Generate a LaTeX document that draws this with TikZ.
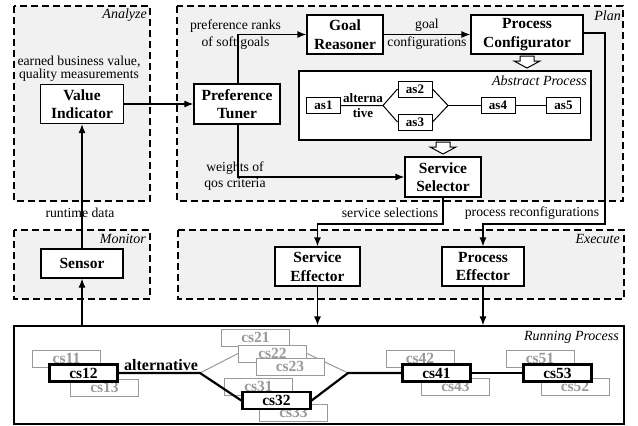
\documentclass[tikz,border=0pt]{standalone}
\usepackage{fontspec}
\setmainfont{Liberation Serif}
\usetikzlibrary{arrows.meta}
\definecolor{regfill}{gray}{0.945}
\definecolor{greyline}{gray}{0.6}
\begin{document}
\begin{tikzpicture}[x=1pt,y=-1pt,
  region/.style={draw, dash pattern=on 7pt off 4pt, line width=1.1pt, fill=regfill},
  blk/.style={draw, line width=1.2pt, fill=white, align=center, inner sep=0pt, font=\fontsize{15.5}{18.5}\selectfont\bfseries},
  abox/.style={draw, line width=1pt, fill=white, inner sep=0pt, minimum width=34pt, minimum height=16pt, font=\fontsize{13}{14}\selectfont\bfseries},
  gbox/.style={draw=greyline, line width=1pt, fill=white, text=greyline, inner sep=0pt, minimum width=68pt, minimum height=17pt, font=\fontsize{15.5}{16}\selectfont\bfseries},
  cbox/.style={draw, line width=2.3pt, fill=white, inner sep=0pt, minimum width=68pt, minimum height=17pt, font=\fontsize{15.5}{16}\selectfont\bfseries},
  lbl/.style={font=\fontsize{13.7}{14}\selectfont, align=center, inner sep=0pt},
  tag/.style={font=\fontsize{14}{14}\selectfont\itshape, anchor=base east, inner sep=0pt},
  conn/.style={line width=1.2pt, -{Latex[length=9pt,width=7pt]}},
  hollow/.style={draw, line width=1pt, fill=white},
  thick line/.style={line width=2.2pt},
]
\useasboundingbox (0,0) rectangle (638,426);

% regions
\draw[region] (14,6) rectangle (150,201);
\node[tag] (tAnalyze) at (147,18) {Analyze};
\draw[region] (177,6) rectangle (623,201);
\node[tag] (tPlan) at (621,20) {Plan};
\draw[region] (14,230) rectangle (150,299);
\node[tag] (tMonitor) at (146,243) {Monitor};
\draw[region] (178,230) rectangle (624,299);
\node[tag] (tExecute) at (620,243) {Execute};

% running process box
\node[draw, line width=1.2pt, fill=white, minimum width=610pt, minimum height=98pt, inner sep=0pt] (rp) at (319,375) {};
\node[tag] (tRunning) at (619,340) {Running Process};

% main blocks
\node[blk, minimum width=83pt, minimum height=39pt] (vi) at (82,104) {Value\\Indicator};
\node[blk, minimum width=82pt, minimum height=29pt] (sensor) at (82,263.5) {Sensor};
\node[blk, minimum width=86pt, minimum height=40pt] (pt) at (237,104) {Preference\\Tuner};
\node[blk, minimum width=76pt, minimum height=39pt] (gr) at (345,34.5) {Goal\\Reasoner};
\node[blk, minimum width=112pt, minimum height=39pt] (pc) at (527,34.5) {Process\\Configurator};
\node[blk, minimum width=76pt, minimum height=40pt] (ss) at (443,177) {Service\\Selector};
\node[blk, minimum width=85pt, minimum height=39pt] (se) at (317.5,266.5) {Service\\Effector};
\node[blk, minimum width=82pt, minimum height=39pt] (pe) at (483,266.5) {Process\\Effector};

% abstract process
\node[draw, line width=1.2pt, fill=white, minimum width=292pt, minimum height=69pt, inner sep=0pt] (ap) at (445,105.5) {};
\node[tag] (tAbstract) at (587,85) {Abstract Process};
\node[abox] (as1) at (323.5,105.5) {as1};
\node[abox] (as2) at (415,89) {as2};
\node[abox] (as3) at (415,122) {as3};
\node[abox] (as4) at (498,105.5) {as4};
\node[abox] (as5) at (563.5,105.5) {as5};
\node[font=\fontsize{13}{15}\selectfont\bfseries, align=center, inner sep=0pt] (alt1) at (363,105.5) {alterna\\tive};
\coordinate (bL) at (383,105.5);
\coordinate (bR) at (448,105.5);
\draw[line width=1pt] (as1.east) -- (bL) -- (as2.west);
\draw[line width=1pt] (bL) -- (as3.west);
\draw[line width=1pt] (as2.east) -- (bR) -- (as3.east);
\draw[line width=1pt] (bR) -- (as4.west);
\draw[line width=1pt] (as4.east) -- (as5.west);

% hollow arrows
\draw[hollow] (520,56) -- (534,56) -- (534,61) -- (540,61) -- (527,68) -- (514,61) -- (520,61) -- cycle;
\draw[hollow] (436,142) -- (450,142) -- (450,147) -- (456,147) -- (443,154) -- (430,147) -- (436,147) -- cycle;

% labels
\node[lbl, font=\fontsize{13.7}{13.3}\selectfont] (lEarned) at (79,68.5) {earned business value,\\quality measurements};
\node[lbl] (lRuntime) at (80,213) {runtime data};
\node[lbl, font=\fontsize{13.7}{17}\selectfont] (lPref) at (235.5,34.5) {preference ranks\\of soft goals};
\node[lbl, font=\fontsize{13.7}{16}\selectfont] (lWeights) at (235,176) {weights of\\qos criteria};
\node[lbl, font=\fontsize{13.7}{18}\selectfont] (lGoal) at (427,34) {goal\\configurations};
\node[lbl] (lServSel) at (390,213) {service selections};
\node[lbl] (lProcRec) at (532,213) {process reconfigurations};

% connectors
\draw[conn] (sensor.north) -- (vi.south);
\draw[conn] (sensor.south |- rp.north) -- (sensor.south);
\draw[conn] (vi.east) -- (pt.west);
\draw[conn] ([xshift=1pt]pt.north) |- (gr.west);
\draw[conn] ([xshift=1pt]pt.south) |- (ss.west);
\draw[conn] (gr.east) -- (pc.west);
\coordinate (pr) at (605,224);
\coordinate (sr) at (443,224);
\draw[conn] ([yshift=1.5pt]pc.east) -| (pr) -| (pe.north);
\draw[conn] (ss.south) -- (sr) -| (se.north);
\draw[conn] (se.south) -- (se.south |- rp.north);
\draw[conn] (pe.south) -- (pe.south |- rp.north);

% running process content
\coordinate (rbL) at (200,373);
\coordinate (rbR) at (348,373);
\node[gbox] (cs11) at (66.5,358.5) {cs11};
\node[gbox] (cs13) at (104.5,387.5) {cs13};
\node[gbox] (cs21) at (255.5,337.5) {cs21};
\node[gbox] (cs22) at (272.5,353.5) {cs22};
\draw[greyline, line width=1pt] (rbL) -- (cs22.west);
\draw[greyline, line width=1pt] (cs22.east) -- (rbR);
\node[gbox] (cs23) at (290,366.5) {cs23};
\node[gbox] (cs31) at (258.5,386.5) {cs31};
\node[gbox] (cs33) at (293.5,412.5) {cs33};
\node[gbox] (cs42) at (420,358.5) {cs42};
\node[gbox] (cs43) at (455.5,386.5) {cs43};
\node[gbox] (cs51) at (540,358.5) {cs51};
\node[gbox] (cs52) at (575,386.5) {cs52};
\node[font=\fontsize{16}{16}\selectfont\bfseries, inner sep=0pt, anchor=base] (lAlt) at (161,370) {alternative};
\node[cbox] (cs12) at (83.5,373) {cs12};
\node[cbox] (cs32) at (276.5,400.5) {cs32};
\node[cbox] (cs41) at (436.5,373) {cs41};
\node[cbox] (cs53) at (557.5,373) {cs53};
\draw[thick line] (cs12.east) -- (rbL) -- (cs32.west);
\draw[thick line] (cs32.east) -- (rbR) -- (cs41.west);
\draw[thick line] (cs41.east) -- (cs53.west);
\end{tikzpicture}
\end{document}
